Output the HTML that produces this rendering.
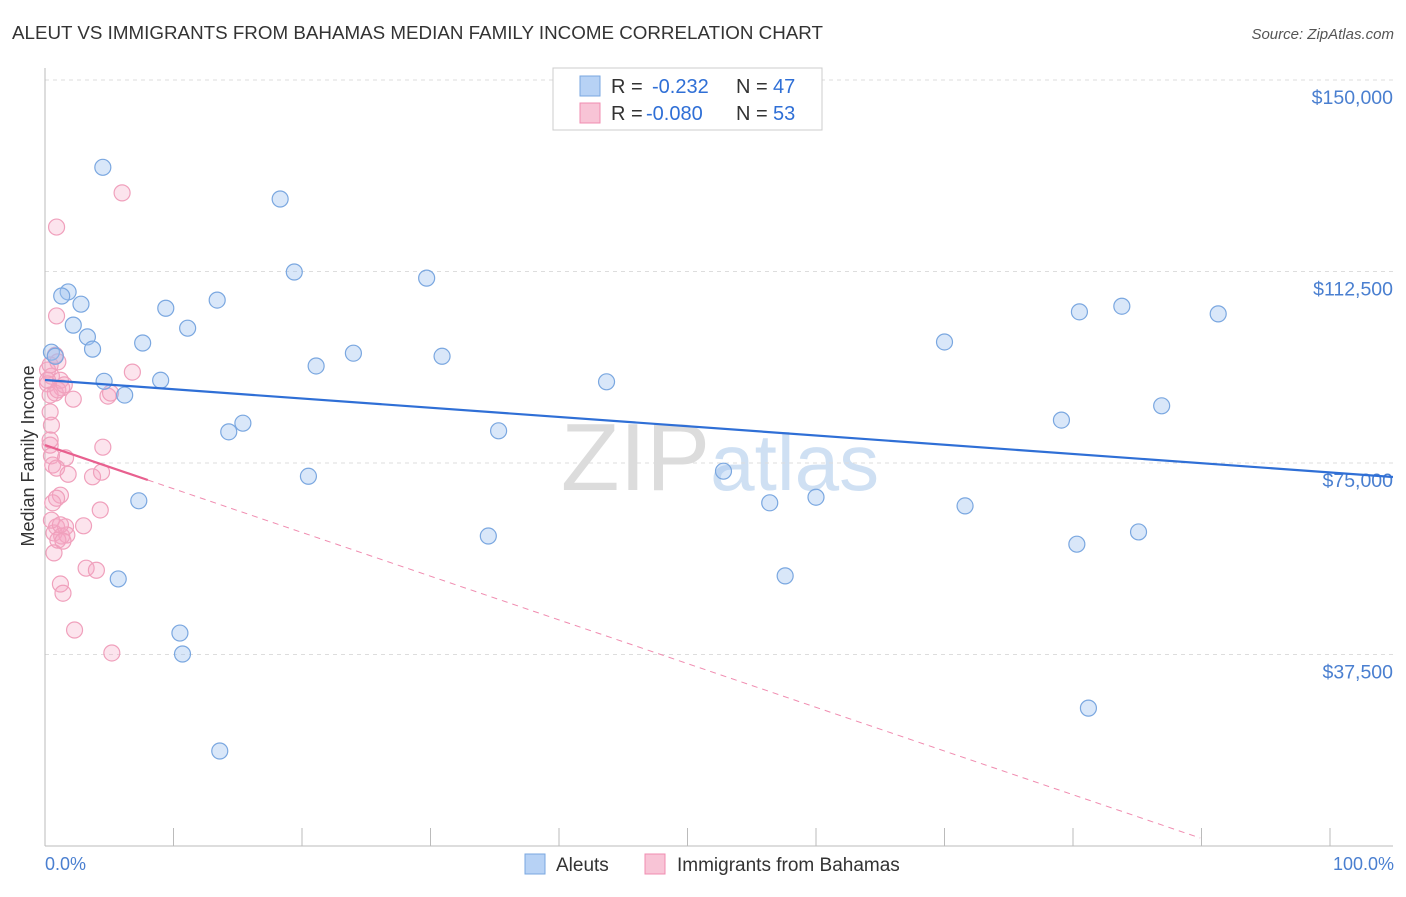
<!DOCTYPE html>
<html><head><meta charset="utf-8"><style>
body{margin:0;background:#fff;font-family:"Liberation Sans",sans-serif}
svg text{font-family:"Liberation Sans",sans-serif}
</style></head><body>
<svg id="chart" width="1406" height="892" xmlns="http://www.w3.org/2000/svg">
<text x="12" y="39" font-size="18" fill="#333" textLength="811" lengthAdjust="spacingAndGlyphs">ALEUT VS IMMIGRANTS FROM BAHAMAS MEDIAN FAMILY INCOME CORRELATION CHART</text>
<text x="1394" y="39" font-size="15" fill="#555" text-anchor="end" font-style="italic">Source: ZipAtlas.com</text>
<text x="720" y="490" font-size="96" fill="#e4e4e4" text-anchor="middle" font-family="Liberation Serif"><tspan fill="#dcdcdc">ZIP</tspan><tspan fill="#cfe0f3" font-family="Liberation Sans" font-size="80">atlas</tspan></text>
<g id="grid"></g>
<g id="axes"></g>
<g id="pts"></g>
<g id="lines"></g>
<text transform="translate(34,456) rotate(-90)" font-size="18" fill="#333" text-anchor="middle">Median Family Income</text>
<text x="45" y="870" font-size="18" fill="#4a7fd0">0.0%</text>
<text x="1394" y="870" font-size="18" fill="#4a7fd0" text-anchor="end">100.0%</text>
<g>
<rect x="553" y="68" width="269" height="62" fill="#fff" stroke="#ccc"/>
<rect x="580" y="76" width="20" height="20" fill="#b7d2f5" stroke="#7aa7e0"/>
<rect x="580" y="103" width="20" height="20" fill="#f8c4d6" stroke="#f08cb0"/>
<text x="611" y="93" font-size="20" fill="#333">R =</text>
<text x="652" y="93" font-size="20" fill="#2f6fd6">-0.232</text>
<text x="736" y="93" font-size="20" fill="#333">N =</text>
<text x="773" y="93" font-size="20" fill="#2f6fd6">47</text>
<text x="611" y="120" font-size="20" fill="#333">R =</text>
<text x="646" y="120" font-size="20" fill="#2f6fd6">-0.080</text>
<text x="736" y="120" font-size="20" fill="#333">N =</text>
<text x="773" y="120" font-size="20" fill="#2f6fd6">53</text>
</g>
<g>
<rect x="525" y="854" width="20" height="20" fill="#b7d2f5" stroke="#7aa7e0"/>
<text x="556" y="871" font-size="19" fill="#333">Aleuts</text>
<rect x="645" y="854" width="20" height="20" fill="#f8c4d6" stroke="#f08cb0"/>
<text x="677" y="871" font-size="19" fill="#333">Immigrants from Bahamas</text>
</g>
</svg>
<script>
const yTicks=[37500,75000,112500,150000];
const yTickLabels=["$37,500","$75,000","$112,500","$150,000"];
const xTicks=[0,10,20,30,40,50,60,70,80,90,100];
const aleutX=[4.5,18.3,19.4,29.7,1.8,1.3,2.8,9.4,13.4,2.2,11.1,3.3,7.6,3.7,0.5,0.8,24.0,30.9,21.1,4.6,9.0,6.2,43.7,15.4,14.3,35.3,20.5,7.3,52.8,56.4,60.0,70.0,71.6,80.5,83.8,91.3,79.1,86.9,85.1,80.3,34.5,57.6,5.7,10.5,10.7,81.2,13.6];
const aleutY=[132900,126700,112400,111200,108500,107700,106100,105300,106900,102000,101400,99700,98500,97300,96700,95900,96500,95900,94000,91000,91200,88300,90900,82800,81100,81300,72400,67600,73400,67200,68300,98700,66600,104600,105700,104200,83400,86200,61500,59100,60700,52900,52300,41700,37600,27000,18600];
const bahX=[6.0,0.9,0.9,0.8,1.0,0.2,0.5,1.2,0.2,1.3,0.8,0.4,2.2,6.8,4.9,5.1,0.4,0.5,4.5,0.4,0.5,1.6,0.6,0.9,1.8,3.7,4.4,1.2,0.9,0.6,4.3,0.9,1.6,0.7,1.3,1.7,1.0,3.0,1.4,0.7,3.2,4.0,1.2,1.4,2.3,5.2,0.4,0.2,1.0,1.5,0.4,0.5,1.2];
const bahY=[127900,121200,103800,96100,94800,93200,92000,91200,90500,89700,88700,88300,87500,92800,88100,88700,85000,82400,78100,78500,76400,76000,74600,74000,72800,72300,73200,68700,68100,67200,65800,62500,62500,61300,60700,60900,59900,62700,59700,57400,54400,54000,51300,49500,42300,37800,94200,91200,89300,90300,79500,63800,62900];
const aleutTrend=[91250,-181];
const bahTrend=[78516,-856];
const bahSolidEnd=8.0, bahDashEnd=89.9, aleutEnd=104.9;

const NS="http://www.w3.org/2000/svg";
const X=v=>45+v*12.85;
const Y=v=>846-v*766/150000;
function mk(tag,attrs,parent){const e=document.createElementNS(NS,tag);for(const k in attrs)e.setAttribute(k,attrs[k]);parent.appendChild(e);return e;}
const grid=document.getElementById('grid'),axes=document.getElementById('axes'),pts=document.getElementById('pts'),lines=document.getElementById('lines');
yTicks.forEach((t,i)=>{
  const l=mk('line',{x1:45,x2:1393,y1:Y(t),y2:Y(t),stroke:'#ddd','stroke-dasharray':'4,4'},grid);
  
  
  const tx=mk('text',{x:1393,y:Y(t)+24,'font-size':19.5,fill:'#4a7fd0','text-anchor':'end'},grid);
  tx.textContent=yTickLabels[i];
  
  
});
const ya=mk('line',{x1:45,x2:45,y1:68,y2:846,stroke:'#bbb'},axes);


const xa=mk('line',{x1:45,x2:1393,y1:846,y2:846,stroke:'#bbb'},axes);


xTicks.forEach(t=>{
  const k=mk('line',{x1:X(t),x2:X(t),y1:828,y2:846,stroke:'#bbb'},axes);
  
  
});
bahX.forEach((v,i)=>{
  const c=mk('circle',{cx:X(v),cy:Y(bahY[i]),r:8,fill:'rgba(245,165,195,0.3)',stroke:'#f0a0bc','stroke-width':1.2},pts);
  
  
});
aleutX.forEach((v,i)=>{
  const c=mk('circle',{cx:X(v),cy:Y(aleutY[i]),r:8,fill:'rgba(160,196,240,0.4)',stroke:'#7aa7e0','stroke-width':1.2},pts);
  
  
});
const f=(tr,x)=>tr[0]+tr[1]*x;
const bl=mk('line',{x1:X(0),y1:Y(f(aleutTrend,0)),x2:X(aleutEnd),y2:Y(f(aleutTrend,aleutEnd)),stroke:'#2f6fd6','stroke-width':2.2},lines);


const pd=mk('line',{x1:X(bahSolidEnd),y1:Y(f(bahTrend,bahSolidEnd)),x2:X(bahDashEnd),y2:Y(f(bahTrend,bahDashEnd)),stroke:'#f08cb0','stroke-width':1,'stroke-dasharray':'6,5'},lines);


const ps=mk('line',{x1:X(0),y1:Y(f(bahTrend,0)),x2:X(bahSolidEnd),y2:Y(f(bahTrend,bahSolidEnd)),stroke:'#e8608f','stroke-width':2.2},lines);


</script>
</body></html>
